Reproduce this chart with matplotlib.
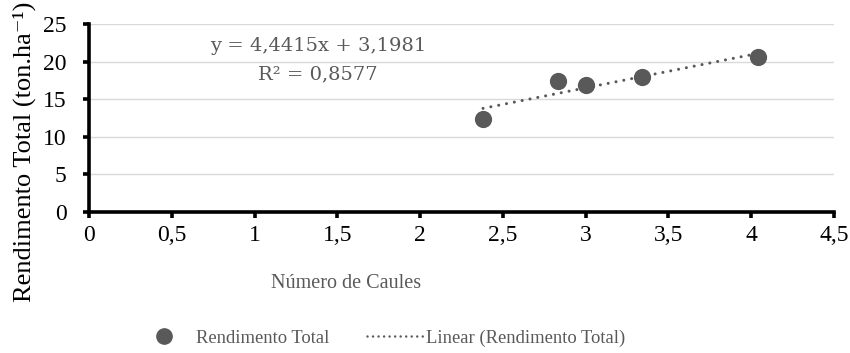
import numpy as np
import matplotlib.pyplot as plt
from matplotlib.lines import Line2D

plt.rcParams['font.family'] = ['Liberation Serif', 'DejaVu Serif']

# dados
caules = [2.38, 2.83, 3.0, 3.34, 4.04]
rendimento = [12.4, 17.4, 16.85, 17.95, 20.55]
xticks = [0, 0.5, 1, 1.5, 2, 2.5, 3, 3.5, 4, 4.5]
yticks = [0, 5, 10, 15, 20, 25]

cinza = '#595959'
pontilhado = (0, (0.01, 2.6))

fig = plt.figure(figsize=(8.5, 3.53), dpi=100)
ax = fig.add_axes([0.1047, 0.3994, 0.8765, 0.5326])

ax.scatter(caules, rendimento, s=130, color=cinza, zorder=3)

# linha de tendencia
a, b = np.polyfit(caules, rendimento, 1)
xs = np.array([min(caules), max(caules)])
ax.plot(xs, a * xs + b, color=cinza, linewidth=2.2,
        linestyle=pontilhado, dash_capstyle='round', zorder=2)

ax.set_xlim(0, 4.5)
ax.set_ylim(0, 25)
ax.set_xticks(xticks)
ax.set_xticklabels([str(t).replace('.', ',') if t % 1 else str(int(t)) for t in xticks])
ax.set_yticks(yticks)
ax.grid(axis='y', color='#d9d9d9', linewidth=1.0)
ax.set_axisbelow(True)

for s in ['top', 'right']:
    ax.spines[s].set_visible(False)
for s in ['left', 'bottom']:
    ax.spines[s].set_linewidth(2.6)
ax.tick_params(direction='out', length=4, width=2.6, labelsize=17)
ax.tick_params(axis='x', pad=5)
ax.tick_params(axis='y', pad=12)

fig.text(24 / 850, 1 - 152 / 353, 'Rendimento Total (ton.ha⁻¹)', fontsize=19,
         rotation=90, ha='center', va='center')
fig.text(346 / 850, 1 - 283 / 353, 'Número de Caules', fontsize=14.5,
         color=cinza, ha='center', va='center')

fig.text(318 / 850, 1 - 46 / 353, 'y = 4,4415x + 3,1981', fontsize=14,
         family='DejaVu Serif', color=cinza, ha='center', va='center')
fig.text(318 / 850, 1 - 74 / 353, 'R² = 0,8577', fontsize=14,
         family='DejaVu Serif', color=cinza, ha='center', va='center')

handles = [
    Line2D([], [], marker='o', linestyle='none', markersize=11, color=cinza),
    Line2D([], [], color=cinza, linewidth=1.8, linestyle=(0, (0.01, 2.2)),
           dash_capstyle='round'),
]
leg = fig.legend(handles, ['Rendimento Total', 'Linear (Rendimento Total)'],
                 loc='center', bbox_to_anchor=(381 / 850, 1 - 338 / 353), ncol=2,
                 frameon=False, fontsize=13.4, handlelength=3.0, handletextpad=0.2,
                 columnspacing=2.0)
for t in leg.get_texts():
    t.set_color(cinza)

fig.savefig('out.png', dpi=100)
